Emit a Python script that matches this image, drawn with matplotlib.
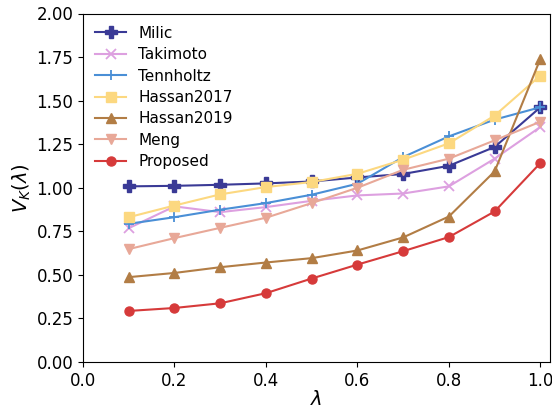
import matplotlib
matplotlib.use("Agg")
import matplotlib.pyplot as plt

lam = [0.1, 0.2, 0.3, 0.4, 0.5, 0.6, 0.7, 0.8, 0.9, 1.0]
milic = [1.008, 1.011, 1.017, 1.025, 1.036, 1.059, 1.079, 1.126, 1.234, 1.462]
takimoto = [0.768, 0.893, 0.86, 0.889, 0.925, 0.956, 0.967, 1.008, 1.167, 1.349]
tennholtz = [0.793, 0.831, 0.874, 0.912, 0.96, 1.023, 1.176, 1.295, 1.391, 1.462]
hassan2017 = [0.831, 0.898, 0.962, 1.004, 1.033, 1.08, 1.161, 1.255, 1.414, 1.644]
hassan2019 = [0.487, 0.511, 0.544, 0.571, 0.596, 0.64, 0.715, 0.835, 1.094, 1.74]
meng = [0.648, 0.711, 0.77, 0.828, 0.912, 1.0, 1.103, 1.167, 1.272, 1.379]
proposed = [0.293, 0.31, 0.337, 0.395, 0.479, 0.559, 0.636, 0.717, 0.864, 1.142]

series = [
    ("Milic", milic, "#3a3a96", "P", 8.5),
    ("Takimoto", takimoto, "#dda0e0", "x", 6.5),
    ("Tennholtz", tennholtz, "#4a8fd6", "+", 6.5),
    ("Hassan2017", hassan2017, "#fcd880", "s", 6.5),
    ("Hassan2019", hassan2019, "#b27d45", "^", 6.5),
    ("Meng", meng, "#e8a898", "v", 6.5),
    ("Proposed", proposed, "#d63a3a", "o", 6.5),
]

fig = plt.figure(figsize=(5.52, 4.12), dpi=100)
ax = fig.add_axes([83/552, 1-362/412, (550-83)/552, (362-13.5)/412])
for name, vals, c, m, ms in series:
    ax.plot(lam, vals, color=c, marker=m, markersize=ms, linewidth=1.5,
            markeredgewidth=1.3 if m in ("x", "+") else 1.0, label=name)

ax.set_xlim(0.0, 1.021)
ax.set_ylim(0.0, 2.0)
ax.set_xticks([0.0, 0.2, 0.4, 0.6, 0.8, 1.0])
ax.set_yticks([0.0, 0.25, 0.5, 0.75, 1.0, 1.25, 1.5, 1.75, 2.0])
ax.yaxis.set_major_formatter(matplotlib.ticker.FormatStrFormatter("%.2f"))
ax.xaxis.set_major_formatter(matplotlib.ticker.FormatStrFormatter("%.1f"))
ax.tick_params(labelsize=12)
ax.set_xlabel(r"$\lambda$", fontsize=14, labelpad=0)
ax.set_ylabel(r"$V_K(\lambda)$", fontsize=14, labelpad=2)
ax.legend(loc="upper left", frameon=False, fontsize=11, labelspacing=0.42,
          borderaxespad=0.4)

fig.savefig("out.png", dpi=100)
